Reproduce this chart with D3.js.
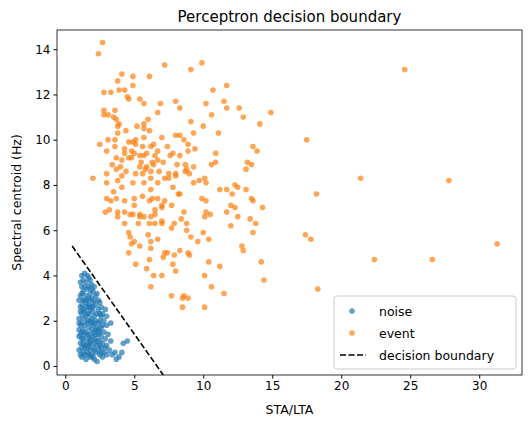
<!DOCTYPE html>
<html>
<head>
<meta charset="utf-8">
<script src="https://cdn.jsdelivr.net/npm/d3@7"></script>
<style>
body{margin:0;background:#fff;font-family:"DejaVu Sans",sans-serif;}
</style>
</head>
<body>
<svg id="chart" width="532" height="430"></svg>
<script>
// noise points [STA/LTA, centroid]
var noise = [
[1.2,4.0],[1.4,4.1],[1.6,4.0],[1.3,3.8],[1.7,3.9],[1.5,3.7],[1.2,3.5],[1.9,3.6],[1.6,3.4],[1.3,3.3],
[2.0,3.3],[1.1,3.1],[1.5,3.1],[1.8,3.2],[2.2,3.1],[1.4,2.9],[1.7,2.9],[2.0,2.8],[2.4,2.9],[1.2,2.7],
[1.5,2.6],[1.9,2.6],[2.2,2.7],[2.6,2.6],[2.9,2.5],[1.1,2.4],[1.4,2.4],[1.7,2.3],[2.0,2.4],[2.3,2.3],
[2.7,2.3],[3.0,2.2],[2.8,2.0],[1.0,2.1],[1.3,2.1],[1.6,2.0],[1.9,2.1],[2.2,2.0],[2.5,2.0],[3.3,1.9],
[1.1,1.8],[1.4,1.8],[1.7,1.7],[2.0,1.8],[2.3,1.7],[2.6,1.7],[1.0,1.6],[1.2,1.5],[1.5,1.5],[1.8,1.4],
[2.1,1.5],[2.4,1.4],[2.8,1.5],[1.0,1.3],[1.3,1.2],[1.6,1.2],[1.9,1.1],[2.2,1.2],[2.5,1.1],[2.9,1.2],
[1.1,1.0],[1.4,0.9],[1.7,0.9],[2.0,0.8],[2.3,0.9],[2.6,0.8],[3.0,0.9],[1.0,0.7],[1.3,0.6],[1.6,0.6],
[1.9,0.5],[2.2,0.6],[2.5,0.5],[2.8,0.6],[3.2,0.7],[1.2,0.4],[1.5,0.3],[1.8,0.4],[2.3,0.2],[2.7,0.4],
[3.4,0.5],[3.7,0.3],[3.9,0.4],[4.1,0.6],[4.2,1.0],[4.5,1.1],[3.6,0.6],[1.5,2.2],[1.8,2.5],[2.1,2.9],
[1.6,1.9],[2.0,1.3],[1.4,1.4],[2.4,1.9],[1.7,3.0],[1.9,3.4],[1.5,2.8],[2.6,2.2],[1.2,1.9],[1.8,1.0],
[2.1,0.7],[1.4,0.8],[2.7,1.0],[3.1,1.4],[1.3,2.5],[2.2,1.6],[1.6,0.8],[2.5,1.5],[1.9,1.9],[1.7,2.7],
[1.1,3.7],[1.8,3.8],[1.4,3.5],[1.7,3.5],[2.1,3.5],[1.2,3.2],[1.9,3.0],[2.3,3.2],[1.0,2.9],[1.3,2.9],
[2.5,2.8],[1.1,2.6],[1.7,2.6],[2.0,2.6],[2.4,2.5],[1.2,2.3],[1.6,2.3],[2.1,2.2],[2.5,2.3],[1.0,1.9],
[1.8,2.0],[2.1,1.9],[2.7,1.8],[3.0,1.8],[1.3,1.6],[1.9,1.6],[2.4,1.6],[1.1,1.4],[1.6,1.4],[2.2,1.4],
[2.6,1.3],[1.2,1.2],[1.8,1.2],[2.3,1.1],[1.3,1.0],[1.6,1.0],[2.1,1.0],[2.5,0.9],[1.2,0.8],[1.8,0.7],
[2.4,0.7],[1.1,0.5],[1.7,0.5],[2.0,0.4],[2.6,0.6],[3.0,0.5],[1.4,0.5],[2.1,0.3],[3.3,1.1],[2.9,0.8]
];
// event points
var events = [
[2.7,14.3],[2.4,13.8],[7.2,13.3],[9.1,13.1],[9.9,13.4],[4.1,12.9],[3.8,12.6],[4.9,12.8],[4.9,12.4],[6.1,12.8],
[2.8,12.1],[3.3,12.1],[3.9,12.2],[4.3,12.2],[4.5,11.9],[4.6,11.8],[5.4,11.8],[5.7,11.6],[6.9,11.6],[8.0,11.7],
[8.3,11.4],[6.7,11.2],[10.7,12.2],[11.7,12.4],[11.5,11.7],[11.7,11.4],[10.2,11.6],[10.6,11.1],[12.6,11.4],[12.9,11.0],
[14.9,11.2],[14.1,10.7],[9.1,10.8],[10.0,10.6],[11.1,10.3],[9.3,10.3],[2.8,11.3],[2.8,11.1],[3.6,11.3],[3.1,11.1],
[3.5,11.0],[3.7,10.9],[3.9,10.7],[3.8,10.6],[6.0,10.9],[5.7,10.7],[5.2,10.6],[5.7,10.5],[6.1,10.4],[4.4,10.4],
[3.8,10.3],[7.0,10.1],[8.0,10.2],[8.3,10.2],[8.6,10.0],[8.9,9.8],[9.4,9.6],[8.9,9.5],[3.1,10.0],[3.6,10.0],
[2.5,9.8],[3.6,9.7],[3.0,9.5],[4.6,9.9],[4.9,9.9],[5.1,10.0],[5.7,10.1],[5.1,9.8],[5.6,9.7],[6.2,9.7],
[6.4,9.8],[7.4,9.7],[4.3,9.6],[4.8,9.5],[5.0,9.4],[4.3,9.4],[5.9,9.4],[6.7,9.5],[6.5,9.3],[7.8,9.4],
[7.6,9.3],[8.3,9.3],[3.7,9.2],[4.1,9.1],[4.6,9.2],[4.8,9.2],[5.4,9.3],[5.7,9.3],[6.7,9.1],[7.1,9.0],
[5.5,9.0],[6.3,9.0],[6.4,8.9],[5.9,8.8],[5.4,8.8],[3.4,8.9],[3.7,8.7],[4.0,8.8],[4.4,8.6],[5.1,8.5],
[5.6,8.5],[5.8,8.7],[6.2,8.6],[6.8,8.6],[8.1,8.9],[8.7,8.9],[9.3,8.8],[8.8,8.7],[8.7,8.6],[8.0,8.5],
[8.0,8.4],[9.0,8.5],[7.5,8.5],[7.5,8.3],[7.2,8.3],[6.2,8.3],[5.7,8.1],[4.9,8.1],[4.1,8.4],[3.8,8.2],
[3.0,8.5],[3.0,8.1],[2.0,8.3],[4.1,7.9],[9.3,8.1],[9.7,8.2],[10.1,8.3],[10.2,8.1],[10.9,9.4],[10.6,8.9],
[10.9,9.0],[13.1,8.7],[13.2,9.0],[13.5,8.9],[13.6,9.7],[13.9,9.5],[12.3,8.0],[12.5,7.9],[13.1,7.8],[11.2,7.8],
[11.7,7.8],[6.7,8.1],[6.2,7.8],[7.8,7.9],[3.5,7.7],[3.0,7.4],[3.7,7.4],[3.3,7.3],[5.0,7.4],[5.6,7.5],
[6.3,7.4],[6.1,7.3],[6.7,7.4],[7.2,7.3],[7.0,7.1],[7.0,7.0],[7.7,7.1],[4.3,7.3],[5.0,7.1],[8.2,7.6],
[8.3,7.6],[12.1,7.6],[13.5,7.4],[13.6,7.3],[14.3,7.0],[9.9,7.4],[10.2,7.3],[12.0,7.1],[12.3,7.0],[11.7,6.8],
[12.5,6.6],[13.4,6.5],[13.8,6.3],[12.0,6.2],[10.2,6.8],[10.5,6.7],[10.1,6.6],[2.9,6.8],[3.2,6.9],[3.8,6.8],
[4.3,6.8],[4.7,6.7],[4.9,6.7],[5.4,6.7],[5.4,6.6],[5.7,6.6],[6.2,6.6],[6.5,6.9],[6.5,6.7],[3.8,6.6],
[4.3,6.3],[5.3,6.3],[6.1,6.3],[6.5,6.3],[7.0,6.4],[7.0,6.3],[7.9,6.3],[8.4,6.5],[8.6,6.8],[8.8,6.3],
[7.7,6.1],[8.8,6.0],[10.0,5.9],[4.6,5.9],[4.7,5.7],[6.0,5.8],[6.7,5.6],[5.0,5.5],[4.8,5.4],[6.2,5.5],
[5.4,5.3],[6.2,5.2],[9.1,5.7],[9.6,5.5],[10.4,5.6],[4.6,5.0],[7.2,5.0],[7.4,5.0],[8.3,5.1],[8.9,5.0],
[9.0,4.9],[7.9,4.9],[7.1,4.8],[6.1,4.7],[5.1,4.5],[5.9,4.3],[7.8,4.5],[8.0,4.2],[10.4,4.6],[11.2,4.4],
[12.8,5.3],[12.9,5.1],[13.6,5.9],[14.2,4.6],[14.4,3.8],[6.4,4.0],[7.0,4.0],[10.1,4.0],[10.6,3.5],[11.5,3.2],
[6.2,3.5],[7.7,3.1],[8.6,3.1],[8.5,3.0],[8.9,3.0],[10.1,2.6],[8.5,2.6],
[17.5,10.0],[18.2,7.6],[17.4,5.8],[17.8,5.6],[21.4,8.3],[22.4,4.7],[26.6,4.7],[27.8,8.2],[31.3,5.4],[18.3,3.4],[24.6,13.1]
];
// decision boundary end points
var boundaryX = [0.5, 7.1];
var boundaryY = [5.3, -0.4];
var xTicks = [0, 5, 10, 15, 20, 25, 30];
var yTicks = [0, 2, 4, 6, 8, 10, 12, 14];

var svg = d3.select("#chart");
var m = {left: 57, right: 522, top: 30, bottom: 375};
var x = d3.scaleLinear().domain([-0.6, 33.1]).range([m.left, m.right]);
var y = d3.scaleLinear().domain([-0.4, 14.85]).range([m.bottom, m.top]);

svg.append("clipPath").attr("id", "clip").append("rect")
  .attr("x", m.left).attr("y", m.top).attr("width", m.right - m.left).attr("height", m.bottom - m.top);

var plot = svg.append("g").attr("clip-path", "url(#clip)");

plot.selectAll(".noise").data(noise).enter().append("circle")
  .attr("cx", function(d){ return x(d[0]); })
  .attr("cy", function(d){ return y(d[1]); })
  .attr("r", 2.8).style("fill", "#1f77b4").style("opacity", 0.7);

plot.selectAll(".event").data(events).enter().append("circle")
  .attr("cx", function(d){ return x(d[0]); })
  .attr("cy", function(d){ return y(d[1]); })
  .attr("r", 2.8).style("fill", "#ff7f0e").style("opacity", 0.7);

plot.append("line")
  .attr("x1", x(boundaryX[0])).attr("y1", y(boundaryY[0]))
  .attr("x2", x(boundaryX[1])).attr("y2", y(boundaryY[1]))
  .style("stroke", "#000").style("stroke-width", 1.6).style("stroke-dasharray", "6,2.5");

svg.append("g").attr("transform", "translate(0," + m.bottom + ")")
  .call(d3.axisBottom(x).tickValues(xTicks).tickSize(3.5).tickSizeOuter(0));
svg.append("g").attr("transform", "translate(" + m.left + ",0)")
  .call(d3.axisLeft(y).tickValues(yTicks).tickSize(3.5).tickSizeOuter(0));
svg.selectAll(".tick text").style("font-size", "12px").style("font-family", "DejaVu Sans").style("fill", "#000");
svg.selectAll(".domain").remove();
svg.append("rect").attr("x", m.left).attr("y", m.top).attr("width", m.right - m.left).attr("height", m.bottom - m.top)
  .style("fill", "none").style("stroke", "#000").style("stroke-width", 0.8);

svg.append("text").attr("x", (m.left + m.right) / 2).attr("y", 22).attr("text-anchor", "middle")
  .style("font-size", "15px").text("Perceptron decision boundary");
svg.append("text").attr("x", (m.left + m.right) / 2).attr("y", 414).attr("text-anchor", "middle")
  .style("font-size", "12.5px").text("STA/LTA");
svg.append("text").attr("transform", "translate(21," + (m.top + m.bottom) / 2 + ") rotate(-90)")
  .attr("text-anchor", "middle").style("font-size", "12.5px").text("Spectral centroid (Hz)");

// legend
var lg = svg.append("g").attr("transform", "translate(334,296)");
lg.append("rect").attr("width", 182).attr("height", 73).attr("rx", 3)
  .style("fill", "#fff").style("fill-opacity", 0.8).style("stroke", "#ccc");
var items = [["noise", "#1f77b4"], ["event", "#ff7f0e"], ["decision boundary", null]];
items.forEach(function(it, i){
  var cy = 15 + i * 22;
  if (it[1]) {
    lg.append("circle").attr("cx", 18).attr("cy", cy).attr("r", 2.8).style("fill", it[1]).style("opacity", 0.7);
  } else {
    lg.append("line").attr("x1", 6).attr("x2", 32).attr("y1", cy).attr("y2", cy)
      .style("stroke", "#000").style("stroke-width", 1.6).style("stroke-dasharray", "6,2.5");
  }
  lg.append("text").attr("x", 45).attr("y", cy + 4.5).style("font-size", "12.5px").text(it[0]);
});
</script>
</body>
</html>
